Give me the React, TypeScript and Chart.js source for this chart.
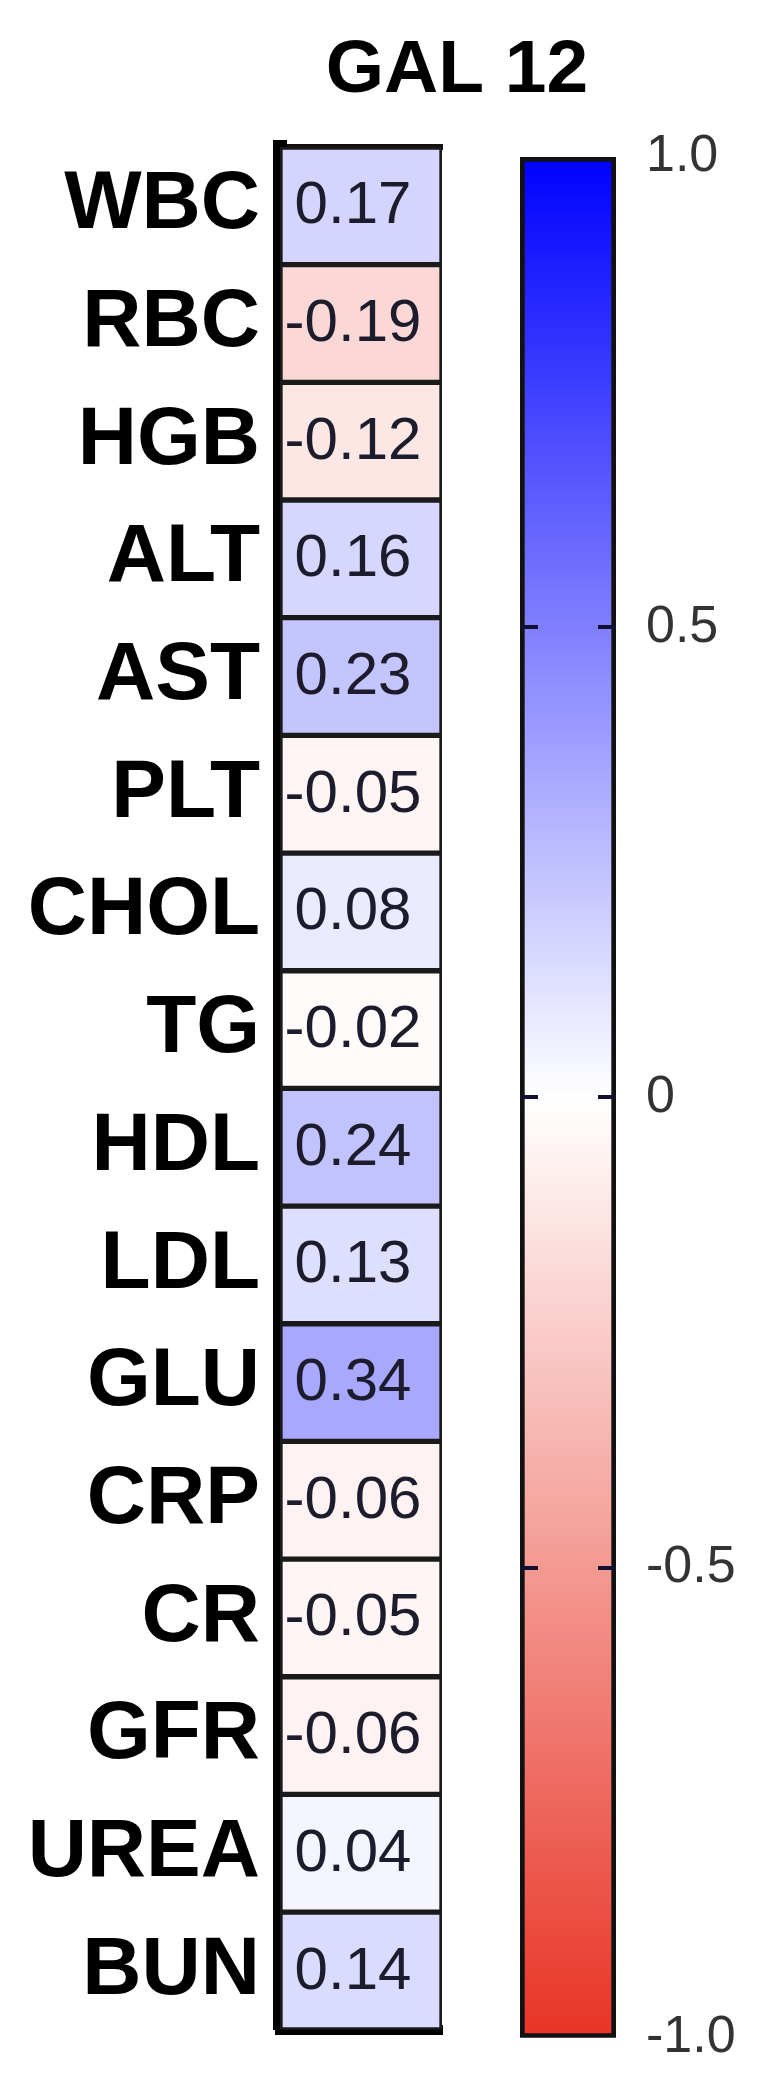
import React, { useEffect, useRef } from "react";
import { Chart, registerables } from "chart.js";

Chart.register(...registerables);

const TITLE = "GAL 12";
const CATEGORIES = ["WBC", "RBC", "HGB", "ALT", "AST", "PLT", "CHOL", "TG", "HDL", "LDL", "GLU", "CRP", "CR", "GFR", "UREA", "BUN"];
const CORRELATIONS = [0.17, -0.19, -0.12, 0.16, 0.23, -0.05, 0.08, -0.02, 0.24, 0.13, 0.34, -0.06, -0.05, -0.06, 0.04, 0.14];
const COLORBAR_TICK_VALUES = [-1, -0.5, 0, 0.5, 1];
const COLORBAR_TICK_LABELS = ["-1.0", "-0.5", "0", "0.5", "1.0"];

const BLUE = [0, 0, 255];
const RED = [232, 52, 38];
const FONT = "'Liberation Sans', Arial, sans-serif";

function colorFor(v: number): string {
  const t = Math.min(1, Math.abs(v));
  const end = v >= 0 ? BLUE : RED;
  const c = end.map((e) => Math.round(255 + (e - 255) * t));
  return `rgb(${c[0]},${c[1]},${c[2]})`;
}

export default function App() {
  const heatRef = useRef<HTMLCanvasElement | null>(null);
  const barRef = useRef<HTMLCanvasElement | null>(null);

  useEffect(() => {
    document.body.style.margin = "0";
    const heatCanvas = heatRef.current!;
    const barCanvas = barRef.current!;

    const titlePlugin = {
      id: "titleText",
      afterDraw(chart: any) {
        const c = chart.ctx;
        c.save();
        c.font = `bold 75px ${FONT}`;
        c.fillStyle = "#000";
        c.textAlign = "center";
        c.textBaseline = "middle";
        c.fillText(TITLE, 457, 71);
        c.restore();
      },
    };

    const cellTextPlugin = {
      id: "cellText",
      afterDatasetsDraw(chart: any) {
        const c = chart.ctx;
        const meta = chart.getDatasetMeta(0);
        c.save();
        c.font = `60px ${FONT}`;
        c.fillStyle = "#1c1c2c";
        c.textAlign = "center";
        c.textBaseline = "middle";
        meta.data.forEach((bar: any, i: number) => {
          const p = bar.getProps(["x", "y", "base"], true);
          const cx = (p.x + p.base) / 2 - 8;
          c.fillText(CORRELATIONS[i].toFixed(2), cx, p.y + 1);
        });
        c.restore();
      },
    };

    const heat = new Chart(heatCanvas, {
      type: "bar",
      data: {
        labels: CATEGORIES,
        datasets: [
          {
            data: CATEGORIES.map(() => 1),
            backgroundColor: CORRELATIONS.map(colorFor),
            borderColor: "#1a1a1a",
            borderWidth: 3,
            borderSkipped: false,
            barPercentage: 1,
            categoryPercentage: 1,
          },
        ],
      },
      options: {
        indexAxis: "y",
        animation: false,
        responsive: false,
        devicePixelRatio: 1,
        layout: { padding: { top: 147, bottom: 59, right: 336, left: 0 } },
        plugins: { legend: { display: false }, tooltip: { enabled: false }, title: { display: false } },
        scales: {
          x: {
            type: "linear",
            min: 0,
            max: 1,
            position: "bottom",
            grid: { display: false, drawTicks: false },
            ticks: { display: false },
            border: { display: true, width: 10, color: "#000" },
            afterFit: (s: any) => {
              s.height = 0;
            },
          },
          xTop: {
            type: "linear",
            min: 0,
            max: 1,
            position: "top",
            grid: { display: false, drawTicks: false },
            ticks: { display: false },
            border: { display: true, width: 6, color: "#111" },
            afterFit: (s: any) => {
              s.height = 0;
            },
          },
          y: {
            type: "category",
            position: "left",
            grid: { display: false, drawTicks: false },
            border: { display: true, width: 14, color: "#000" },
            ticks: {
              padding: 20,
              color: "#000",
              font: { family: FONT, size: 82, weight: "bold" },
              autoSkip: false,
            },
            afterFit: (s: any) => {
              s.width = 280;
            },
          },
        },
      },
      plugins: [titlePlugin, cellTextPlugin],
    } as any);

    const tickMarksPlugin = {
      id: "tickMarks",
      afterDatasetsDraw(chart: any) {
        const c = chart.ctx;
        const area = chart.chartArea;
        const y = chart.scales.y;
        c.save();
        c.strokeStyle = "#111133";
        c.lineWidth = 4;
        COLORBAR_TICK_VALUES.forEach((v) => {
          if (Math.abs(v) >= 1) return;
          const py = Math.round(y.getPixelForValue(v));
          c.beginPath();
          c.moveTo(area.left, py);
          c.lineTo(area.left + 18, py);
          c.moveTo(area.right - 18, py);
          c.lineTo(area.right, py);
          c.stroke();
        });
        c.restore();
      },
    };

    const bar = new Chart(barCanvas, {
      type: "bar",
      data: {
        labels: [""],
        datasets: [
          {
            data: [[-1, 1]],
            backgroundColor: (ctx: any) => {
              const chart = ctx.chart;
              if (!chart.chartArea) return "#fff";
              const ys = chart.scales.y;
              const g = chart.ctx.createLinearGradient(0, ys.getPixelForValue(-1), 0, ys.getPixelForValue(1));
              g.addColorStop(0, `rgb(${RED.join(",")})`);
              g.addColorStop(0.5, "#ffffff");
              g.addColorStop(1, `rgb(${BLUE.join(",")})`);
              return g;
            },
            borderColor: "#111",
            borderWidth: 5,
            borderSkipped: false,
            barPercentage: 1,
            categoryPercentage: 1,
          },
        ],
      },
      options: {
        animation: false,
        responsive: false,
        devicePixelRatio: 1,
        layout: { padding: { top: 157, bottom: 54, left: 40, right: 0 } },
        plugins: { legend: { display: false }, tooltip: { enabled: false }, title: { display: false } },
        scales: {
          x: { display: false },
          y: {
            type: "linear",
            position: "right",
            min: -1,
            max: 1,
            grid: { display: false, drawTicks: false },
            border: { display: false },
            afterBuildTicks: (s: any) => {
              s.ticks = COLORBAR_TICK_VALUES.map((v) => ({ value: v }));
            },
            ticks: {
              padding: 30,
              color: "#333",
              font: { family: FONT, size: 52 },
              callback: (v: any) => {
                const i = COLORBAR_TICK_VALUES.indexOf(Number(v));
                return i >= 0 ? COLORBAR_TICK_LABELS[i] : "";
              },
            },
            afterFit: (s: any) => {
              s.width = 162;
            },
          },
        },
      },
      plugins: [tickMarksPlugin],
    } as any);

    return () => {
      heat.destroy();
      bar.destroy();
    };
  }, []);

  return (
    <div style={{ position: "relative", width: 778, height: 2099, background: "#fff" }}>
      <canvas ref={heatRef} width={778} height={2099} style={{ position: "absolute", left: 0, top: 0, width: 778, height: 2099 }} />
      <canvas ref={barRef} width={298} height={2099} style={{ position: "absolute", left: 480, top: 0, width: 298, height: 2099 }} />
    </div>
  );
}
